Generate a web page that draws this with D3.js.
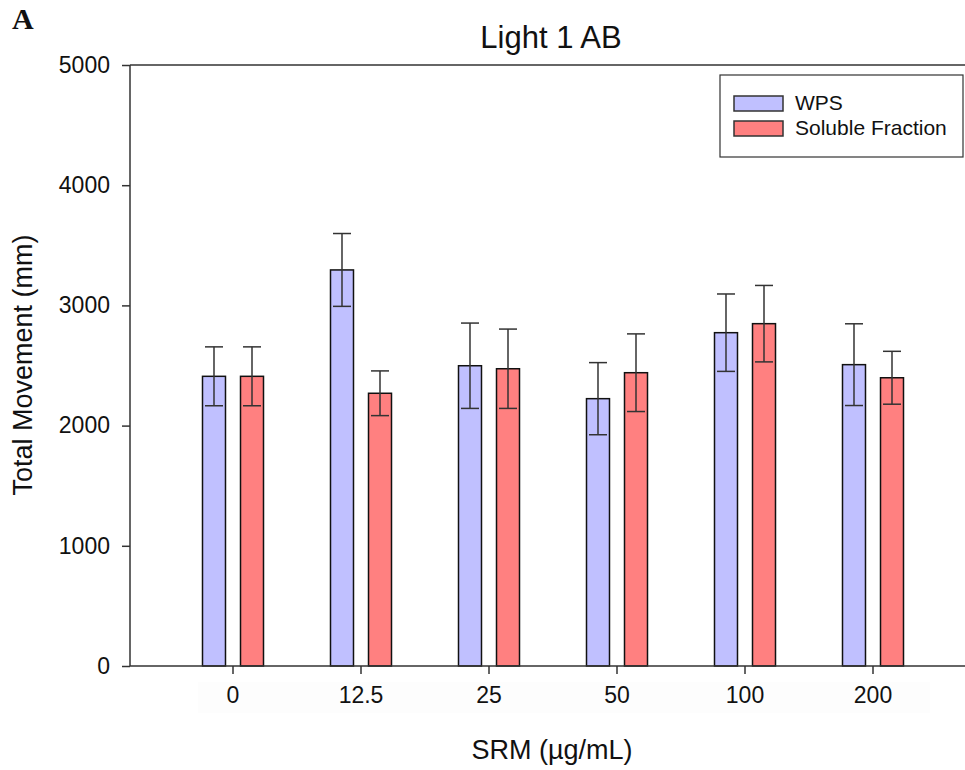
<!DOCTYPE html>
<html lang="en">
  <head>
    <meta charset="UTF-8" />
    <script src="https://d3js.org/d3.v7.min.js"></script>
    <title>Light 1 AB</title>
    <style>
      body {
        margin: 0;
        background: white;
      }
      text {
        font-family: "Liberation Sans", Arial, sans-serif;
        fill: #111;
      }
    </style>
  </head>

  <body>
    <script>
      /*------------------- data --------------------*/
      const doses = ["0", "12.5", "25", "50", "100", "200"];
      const seriesNames = ["WPS", "Soluble Fraction"];
      const seriesColors = ["#c0c0ff", "#ff8080"];
      // mean total movement per dose
      const wpsMean = [2410, 3295, 2498, 2224, 2773, 2507];
      const wpsErr = [245, 303, 355, 300, 322, 340];
      const solMean = [2410, 2269, 2473, 2440, 2848, 2398];
      const solErr = [245, 186, 330, 323, 318, 220];
      const yTicks = [0, 1000, 2000, 3000, 4000, 5000];

      /*------------------- window --------------------*/
      const width = 965;
      const height = 770;
      const plot = { left: 130, right: 965, top: 65, bottom: 666 };

      const svg = d3
        .select("body")
        .append("svg")
        .attr("width", width)
        .attr("height", height);

      /*------------------- scales --------------------*/
      const x0 = d3.scaleBand().domain(doses).range([169, 937]);
      const x1 = d3
        .scaleBand()
        .domain(seriesNames)
        .range([-30.5, 30.5])
        .paddingInner(0.395);
      const y = d3.scaleLinear().domain([0, 5000]).range([plot.bottom, plot.top]);

      const rows = doses.map((d, i) => ({
        dose: d,
        values: [
          { name: seriesNames[0], mean: wpsMean[i], err: wpsErr[i], color: seriesColors[0] },
          { name: seriesNames[1], mean: solMean[i], err: solErr[i], color: seriesColors[1] },
        ],
      }));

      // very faint background behind tick labels
      svg
        .append("rect")
        .attr("x", 198)
        .attr("y", 682)
        .attr("width", 732)
        .attr("height", 31)
        .attr("fill", "#fdfdfd");

      /*------------------- bars --------------------*/
      const groups = svg
        .selectAll("g.group")
        .data(rows)
        .enter()
        .append("g")
        .attr("class", "group")
        .attr("transform", (d) => `translate(${x0(d.dose) + x0.bandwidth() / 2},0)`);

      groups
        .selectAll("rect")
        .data((d) => d.values)
        .enter()
        .append("rect")
        .attr("x", (d) => x1(d.name))
        .attr("width", x1.bandwidth())
        .attr("y", (d) => y(d.mean))
        .attr("height", (d) => y(0) - y(d.mean))
        .attr("fill", (d) => d.color)
        .attr("stroke", "#111")
        .attr("stroke-width", 1.5);

      // error bars
      const eb = groups
        .selectAll("g.err")
        .data((d) => d.values)
        .enter()
        .append("g")
        .attr("class", "err")
        .attr("stroke", "#333")
        .attr("stroke-width", 1.5);
      const cx = (d) => x1(d.name) + x1.bandwidth() / 2;
      eb.append("line")
        .attr("x1", cx)
        .attr("x2", cx)
        .attr("y1", (d) => y(d.mean + d.err))
        .attr("y2", (d) => y(d.mean - d.err));
      eb.append("line")
        .attr("x1", (d) => cx(d) - 9)
        .attr("x2", (d) => cx(d) + 9)
        .attr("y1", (d) => y(d.mean + d.err))
        .attr("y2", (d) => y(d.mean + d.err));
      eb.append("line")
        .attr("x1", (d) => cx(d) - 9)
        .attr("x2", (d) => cx(d) + 9)
        .attr("y1", (d) => y(d.mean - d.err))
        .attr("y2", (d) => y(d.mean - d.err));

      /*------------------- axes --------------------*/
      const frame = svg.append("g").attr("stroke", "#333").attr("stroke-width", 1.5);
      frame
        .append("line")
        .attr("x1", plot.left)
        .attr("x2", plot.right)
        .attr("y1", plot.top)
        .attr("y2", plot.top);

      const yAxis = svg
        .append("g")
        .attr("transform", `translate(${plot.left},0)`)
        .call(
          d3
            .axisLeft(y)
            .tickValues(yTicks)
            .tickFormat(d3.format("d"))
            .tickSize(8)
            .tickPadding(12)
        )
        .attr("font-size", 23)
        .attr("font-family", "Liberation Sans, Arial, sans-serif");
      yAxis.selectAll("path, line").attr("stroke", "#333").attr("stroke-width", 1.5);
      yAxis.select(".domain").attr("d", `M0,${plot.bottom}V${plot.top}`);
      yAxis.selectAll("text").attr("fill", "#111");

      const xAxis = svg
        .append("g")
        .attr("transform", `translate(0,${plot.bottom})`)
        .call(d3.axisBottom(x0).tickSize(8).tickPadding(13))
        .attr("font-size", 23)
        .attr("font-family", "Liberation Sans, Arial, sans-serif");
      xAxis.selectAll("path, line").attr("stroke", "#333").attr("stroke-width", 1.5);
      xAxis.select(".domain").attr("d", `M${plot.left},0H${plot.right}`);
      xAxis.selectAll("text").attr("fill", "#111");

      /*------------------- labels --------------------*/
      svg
        .append("text")
        .attr("x", 551)
        .attr("y", 48)
        .attr("text-anchor", "middle")
        .style("font-size", "31px")
        .text("Light 1 AB");

      svg
        .append("text")
        .attr("x", 12)
        .attr("y", 29)
        .style("font-family", "Liberation Serif, Times New Roman, serif")
        .style("font-weight", "bold")
        .style("font-size", "30px")
        .text("A");

      svg
        .append("text")
        .attr("transform", "translate(32,365) rotate(-90)")
        .attr("text-anchor", "middle")
        .style("font-size", "27px")
        .text("Total Movement (mm)");

      svg
        .append("text")
        .attr("x", 552)
        .attr("y", 759)
        .attr("text-anchor", "middle")
        .style("font-size", "27px")
        .text("SRM (µg/mL)");

      /*------------------- legend --------------------*/
      const legend = svg.append("g");
      legend
        .append("rect")
        .attr("x", 720)
        .attr("y", 75)
        .attr("width", 243)
        .attr("height", 82)
        .attr("fill", "white")
        .attr("stroke", "#333")
        .attr("stroke-width", 1.2);

      const items = legend
        .selectAll("g.item")
        .data(seriesNames)
        .enter()
        .append("g")
        .attr("class", "item")
        .attr("transform", (d, i) => `translate(734,${96 + i * 25})`);
      items
        .append("rect")
        .attr("width", 49)
        .attr("height", 15)
        .attr("fill", (d, i) => seriesColors[i])
        .attr("stroke", "#333")
        .attr("stroke-width", 1.5);
      items
        .append("text")
        .attr("x", 61)
        .attr("y", 14)
        .style("font-size", "21px")
        .text((d) => d);
    </script>
  </body>
</html>
